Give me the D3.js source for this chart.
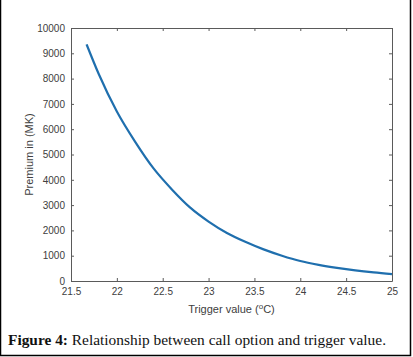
<!DOCTYPE html>
<html>
<head>
<meta charset="utf-8">
<script src="https://cdn.jsdelivr.net/npm/d3@7"></script>
<style>
  html, body { margin: 0; padding: 0; background: #fff; }
  svg { display: block; }
</style>
</head>
<body>
<div id="chart"></div>
<script>
// trigger value (deg C) and premium (MK)
const triggerValues = [21.67, 21.8, 22.0, 22.2, 22.4, 22.6, 22.8, 23.0, 23.2, 23.4, 23.6, 23.8, 24.0, 24.2, 24.4, 24.6, 24.8, 25.0];
const premiums = [9350, 8200, 6700, 5500, 4450, 3620, 2900, 2350, 1900, 1550, 1250, 1000, 790, 640, 520, 420, 340, 275];
const xTicks = [21.5, 22, 22.5, 23, 23.5, 24, 24.5, 25];
const yTicks = [0, 1000, 2000, 3000, 4000, 5000, 6000, 7000, 8000, 9000, 10000];

const W = 413, H = 357;
const margin = { top: 28, right: 21, bottom: 76, left: 71 };
const width = W - margin.left - margin.right;
const height = H - margin.top - margin.bottom;
const axisColor = '#5a5a5a';
const textColor = '#404040';

const svg = d3.select('#chart')
  .append('svg')
  .attr('width', W)
  .attr('height', H);

// outer frame (left, right, bottom)
svg.append('path')
  .attr('d', `M0.5,0 V355.5 H410.5 V0`)
  .attr('fill', 'none')
  .attr('stroke', '#000')
  .attr('stroke-width', 1.5);

const g = svg.append('g')
  .attr('transform', `translate(${margin.left}, ${margin.top})`);

const xScale = d3.scaleLinear().domain([21.5, 25]).range([0, width]);
const yScale = d3.scaleLinear().domain([0, 10000]).range([height, 0]);

const fmt = d => String(d);

// bottom axis, ticks pointing inward
g.append('g')
  .attr('transform', `translate(0, ${height})`)
  .call(d3.axisBottom(xScale).tickValues(xTicks).tickFormat(fmt).tickSizeInner(-3).tickSizeOuter(0).tickPadding(7))
  .call(a => a.select('.domain').attr('stroke', axisColor))
  .call(a => a.selectAll('.tick line').attr('stroke', axisColor))
  .call(a => a.selectAll('text').attr('fill', textColor).style('font-family', 'Liberation Sans, Arial, sans-serif').style('font-size', '10px'));

// left axis
g.append('g')
  .call(d3.axisLeft(yScale).tickValues(yTicks).tickFormat(fmt).tickSizeInner(-3).tickSizeOuter(0).tickPadding(6))
  .call(a => a.select('.domain').attr('stroke', axisColor))
  .call(a => a.selectAll('.tick line').attr('stroke', axisColor))
  .call(a => a.selectAll('text').attr('fill', textColor).style('font-family', 'Liberation Sans, Arial, sans-serif').style('font-size', '10px'));

// top and right box edges with inward ticks
g.append('g')
  .call(d3.axisTop(xScale).tickValues(xTicks).tickFormat('').tickSizeInner(-3).tickSizeOuter(0))
  .call(a => a.select('.domain').attr('stroke', axisColor))
  .call(a => a.selectAll('.tick line').attr('stroke', axisColor));

g.append('g')
  .attr('transform', `translate(${width}, 0)`)
  .call(d3.axisRight(yScale).tickValues(yTicks).tickFormat('').tickSizeInner(-3).tickSizeOuter(0))
  .call(a => a.select('.domain').attr('stroke', axisColor))
  .call(a => a.selectAll('.tick line').attr('stroke', axisColor));

// curve
const line = d3.line()
  .x((d, i) => xScale(triggerValues[i]))
  .y(d => yScale(d))
  .curve(d3.curveMonotoneX);

g.append('path')
  .datum(premiums)
  .attr('fill', 'none')
  .attr('stroke', '#1f6fae')
  .attr('stroke-width', 2.2)
  .attr('d', line);

// axis titles
const xLabel = svg.append('text')
  .attr('x', margin.left + width / 2)
  .attr('y', 313)
  .attr('text-anchor', 'middle')
  .attr('fill', textColor)
  .style('font-family', 'Liberation Sans, Arial, sans-serif')
  .style('font-size', '11px');
xLabel.append('tspan').text('Trigger value (');
xLabel.append('tspan').attr('dy', -4).style('font-size', '8px').text('o');
xLabel.append('tspan').attr('dy', 4).text('C)');

svg.append('text')
  .attr('transform', `translate(33, ${margin.top + height / 2}) rotate(-90)`)
  .attr('text-anchor', 'middle')
  .attr('fill', textColor)
  .style('font-family', 'Liberation Sans, Arial, sans-serif')
  .style('font-size', '11px')
  .text('Premium in (MK)');

// caption
const caption = svg.append('text')
  .attr('x', 8)
  .attr('y', 345)
  .attr('fill', '#111')
  .style('font-family', 'Liberation Serif, serif')
  .style('font-size', '14px')
  .attr('textLength', 378)
  .attr('lengthAdjust', 'spacingAndGlyphs');
caption.append('tspan').style('font-weight', 'bold').text('Figure 4:');
caption.append('tspan').text(' Relationship between call option and trigger value.');
</script>
</body>
</html>
